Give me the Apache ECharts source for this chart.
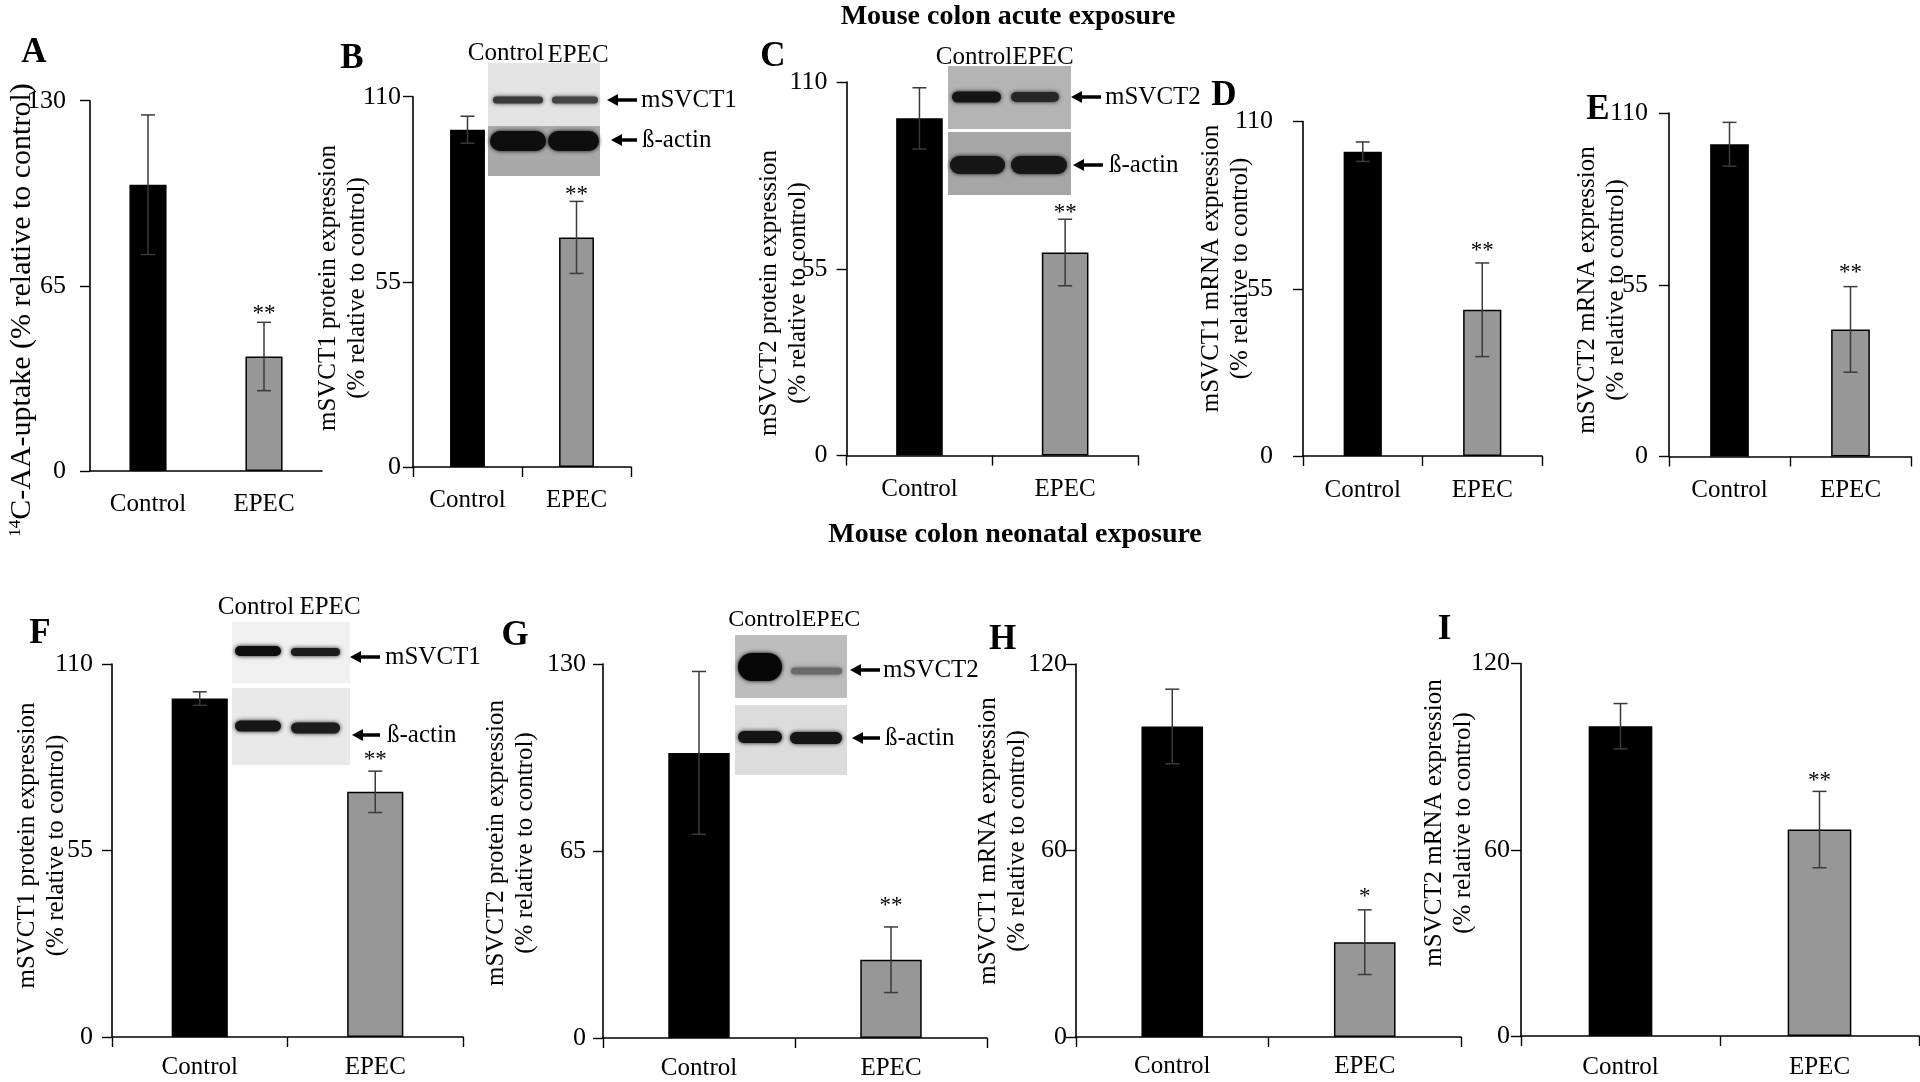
<!DOCTYPE html>
<html><head><meta charset="utf-8">
<script src="https://cdn.jsdelivr.net/npm/echarts@6/dist/echarts.min.js"></script>
<style>html,body{margin:0;padding:0;background:#fff}#c{width:1920px;height:1082px}</style>
</head><body><div id="c"></div>
<script>
// ---------------- DATA ----------------
const categories = ['Control', 'EPEC'];
const panelLetters = ['A','B','C','D','E','F','G','H','I'];

const meanA = [100.5, 40.2], errA = [24.5, 12.0], sigA = ['', '**'], sigPosA = [null, 56.9];
const meanB = [100.2, 68.2], errB = [4.0, 10.7],  sigB = ['', '**'], sigPosB = [null, 82.2];
const meanC = [99.3, 59.8],  errC = [9.0, 9.8],   sigC = ['', '**'], sigPosC = [null, 72.8];
const meanD = [100.1, 48.1], errD = [3.2, 15.4],  sigD = ['', '**'], sigPosD = [null, 69.0];
const meanE = [100.0, 40.7], errE = [7.0, 13.7],  sigE = ['', '**'], sigPosE = [null, 60.4];
const meanF = [99.8, 72.3],  errF = [2.0, 6.1],   sigF = ['', '**'], sigPosF = [null, 83.2];
const meanG = [99.1, 27.2],  errG = [28.3, 11.4], sigG = ['', '**'], sigPosG = [null, 47.6];
const meanH = [99.9, 30.5],  errH = [12.0, 10.4], sigH = ['', '*'],  sigPosH = [null, 46.8];
const meanI = [99.8, 66.5],  errI = [7.3, 12.3],  sigI = ['', '**'], sigPosI = [null, 83.8];

const ticksA = [0, 65, 130], ticksB = [0, 55, 110], ticksC = [0, 55, 110];
const ticksD = [0, 55, 110], ticksE = [0, 55, 110], ticksF = [0, 55, 110];
const ticksG = [0, 65, 130], ticksH = [0, 60, 120], ticksI = [0, 60, 120];

const titleA = ['{s|14}C-AA-uptake (% relative to control)'];
const titleB = ['mSVCT1 protein expression', '(% relative to control)'];
const titleC = ['mSVCT2 protein expression', '(% relative to control)'];
const titleD = ['mSVCT1 mRNA expression', '(% relative to control)'];
const titleE = ['mSVCT2 mRNA expression', '(% relative to control)'];
const titleF = ['mSVCT1 protein expression', '(% relative to control)'];
const titleG = ['mSVCT2 protein expression', '(% relative to control)'];
const titleH = ['mSVCT1 mRNA expression', '(% relative to control)'];
const titleI = ['mSVCT2 mRNA expression', '(% relative to control)'];

const headings = ['Mouse colon acute exposure', 'Mouse colon neonatal exposure'];

// ---------------- LAYOUT (positions / styles only) ----------------
const FONT = 'Liberation Serif';
const layout = {
  A: {x0: 90,   x1: 322,  y0: 100.7, y1: 471,  lm: 24, cm: 20.5, xt: false, title: [22, 310, 30],  letter: [34, 53]},
  B: {x0: 413,  x1: 631,  y0: 96.7,  y1: 467,  lm: 12, cm: 21,   xt: true, title: [342.5, 288, 25], letter: [352, 59]},
  C: {x0: 846.6,x1: 1138, y0: 82,    y1: 455.6,lm: 19, cm: 21.5, xt: true, title: [783.5, 293, 25], letter: [773, 57]},
  D: {x0: 1303, x1: 1542, y0: 121.6, y1: 456,  lm: 30, cm: 21.5, xt: true, title: [1225.7, 268.5, 25], letter: [1224, 96]},
  E: {x0: 1669, x1: 1911, y0: 113,   y1: 456.5,lm: 21, cm: 21.5, xt: true, title: [1602.4, 290, 25], letter: [1598, 110]},
  F: {x0: 112,  x1: 463,  y0: 664,   y1: 1037, lm: 19, cm: 17.5, xt: true, title: [42, 845.5, 25],  letter: [40, 634]},
  G: {x0: 603,  x1: 987,  y0: 664,   y1: 1038, lm: 17, cm: 17.5, xt: true, title: [511.3, 843, 25], letter: [515, 636]},
  H: {x0: 1076, x1: 1461, y0: 664,   y1: 1037, lm: 9,  cm: 16.5, xt: true, title: [1002.5, 841, 25], letter: [1002.5, 640]},
  I: {x0: 1521, x1: 1919, y0: 663.5, y1: 1036, lm: 11, cm: 18.5, xt: true, title: [1448.6, 823, 25], letter: [1444.5, 630]}
};

const panelData = {
  A: {mean: meanA, err: errA, sig: sigA, sigPos: sigPosA, ticks: ticksA, title: titleA},
  B: {mean: meanB, err: errB, sig: sigB, sigPos: sigPosB, ticks: ticksB, title: titleB},
  C: {mean: meanC, err: errC, sig: sigC, sigPos: sigPosC, ticks: ticksC, title: titleC},
  D: {mean: meanD, err: errD, sig: sigD, sigPos: sigPosD, ticks: ticksD, title: titleD},
  E: {mean: meanE, err: errE, sig: sigE, sigPos: sigPosE, ticks: ticksE, title: titleE},
  F: {mean: meanF, err: errF, sig: sigF, sigPos: sigPosF, ticks: ticksF, title: titleF},
  G: {mean: meanG, err: errG, sig: sigG, sigPos: sigPosG, ticks: ticksG, title: titleG},
  H: {mean: meanH, err: errH, sig: sigH, sigPos: sigPosH, ticks: ticksH, title: titleH},
  I: {mean: meanI, err: errI, sig: sigI, sigPos: sigPosI, ticks: ticksI, title: titleI}
};

const barColors = ['#000000', '#979797'];

// ---------------- BUILD OPTION ----------------
const grid = [], xAxis = [], yAxis = [], series = [], graphic = [];

panelLetters.forEach((id, k) => {
  const L = layout[id], D = panelData[id];
  grid.push({left: L.x0, top: L.y0, width: L.x1 - L.x0, height: L.y1 - L.y0, containLabel: false});
  xAxis.push({
    type: 'category', gridIndex: k, data: categories,
    axisLine: {lineStyle: {color: '#000', width: 1.6}},
    axisTick: {show: L.xt, length: 10, lineStyle: {color: '#000', width: 1.4}},
    axisLabel: {color: '#000', fontFamily: FONT, fontSize: 25, margin: L.cm}
  });
  yAxis.push({
    type: 'value', gridIndex: k, min: D.ticks[0], max: D.ticks[D.ticks.length - 1],
    interval: D.ticks[1] - D.ticks[0],
    axisLine: {show: true, lineStyle: {color: '#000', width: 1.6}},
    axisTick: {show: true, length: 10, lineStyle: {color: '#000', width: 1.4}},
    splitLine: {show: false},
    axisLabel: {color: '#000', fontFamily: FONT, fontSize: 26, margin: L.lm}
  });
  series.push({
    type: 'bar', xAxisIndex: k, yAxisIndex: k, barWidth: '32%', animation: false,
    data: D.mean.map((v, i) => ({
      value: v,
      itemStyle: {color: barColors[i], borderColor: '#000', borderWidth: i === 0 ? 0 : 1.5}
    }))
  });
  series.push({
    type: 'custom', xAxisIndex: k, yAxisIndex: k, animation: false, z: 5,
    data: D.mean.map((v, i) => [i, v, D.err[i]]),
    renderItem: (params, api) => {
      const i = api.value(0), v = api.value(1), e = api.value(2);
      const top = api.coord([i, v + e]), bot = api.coord([i, v - e]);
      const half = 7;
      const st = {stroke: '#3a3a3a', lineWidth: 1.5};
      return {type: 'group', children: [
        {type: 'line', shape: {x1: top[0], y1: top[1], x2: bot[0], y2: bot[1]}, style: st},
        {type: 'line', shape: {x1: top[0] - half, y1: top[1], x2: top[0] + half, y2: top[1]}, style: st},
        {type: 'line', shape: {x1: bot[0] - half, y1: bot[1], x2: bot[0] + half, y2: bot[1]}, style: st}
      ]};
    }
  });
  series.push({
    type: 'custom', xAxisIndex: k, yAxisIndex: k, animation: false, z: 6,
    data: D.sigPos.map((p, i) => [i, p == null ? NaN : p]),
    renderItem: (params, api) => {
      const txt = D.sig[params.dataIndex];
      if (!txt) return null;
      const pt = api.coord([api.value(0), api.value(1)]);
      return {type: 'text', x: pt[0], y: pt[1] + 5,
        style: {text: txt, fontFamily: FONT, fontSize: 23, fill: '#000', align: 'center', verticalAlign: 'middle'}};
    }
  });
  // panel letter
  graphic.push({type: 'text', x: L.letter[0], y: L.letter[1],
    style: {text: id, fontFamily: FONT, fontWeight: 'bold', fontSize: 35, fill: '#000', align: 'center', verticalAlign: 'middle'}});
  // y-axis title
  graphic.push({type: 'text', x: L.title[0], y: L.title[1], rotation: Math.PI / 2,
    style: {text: D.title.join('\n'), fontFamily: FONT, fontSize: L.title[2], lineHeight: 29, fill: '#000',
      align: 'center', verticalAlign: 'middle',
      rich: {s: {fontSize: 17, fontFamily: FONT, verticalAlign: 'top', lineHeight: 17, padding: [0, 0, 12, 0]}}}});
});

// headings
graphic.push({type: 'text', x: 1008, y: 17, style: {text: headings[0], fontFamily: FONT, fontWeight: 'bold', fontSize: 28, fill: '#000', align: 'center', verticalAlign: 'middle'}});
graphic.push({type: 'text', x: 1015, y: 535, style: {text: headings[1], fontFamily: FONT, fontWeight: 'bold', fontSize: 28, fill: '#000', align: 'center', verticalAlign: 'middle'}});

// ---------------- WESTERN BLOT INSETS (decorative) ----------------
const blots = [
  {labels: [[506, 53], [578, 55]], fs: 25,
   secs: [
    {x: 488, y: 63, w: 112, h: 63, bg: '#e3e3e3', bands: [[493, 50, 100, 7, '#3a3a3a'], [552, 46, 100, 7, '#444']]},
    {x: 488, y: 126, w: 112, h: 50, bg: '#a9a9a9', bands: [[490, 56, 141, 20, '#0e0e0e'], [548, 51, 141, 20, '#0e0e0e']]}],
   arrows: [[607, 637, 100, 'mSVCT1', 641], [611, 637, 140, 'ß-actin', 642]]},
  {labels: [[974, 57], [1043, 57]], fs: 25,
   secs: [
    {x: 948, y: 66, w: 123, h: 63, bg: '#b4b4b4', bands: [[952, 49, 97, 11, '#141414'], [1011, 48, 97, 10, '#262626']]},
    {x: 948, y: 132, w: 123, h: 63, bg: '#a6a6a6', bands: [[950, 55, 165, 18, '#161616'], [1011, 56, 165, 18, '#161616']]}],
   arrows: [[1071, 1101, 97, 'mSVCT2', 1105], [1073, 1103, 165, 'ß-actin', 1109]]},
  {labels: [[256, 607], [330, 607]], fs: 25,
   secs: [
    {x: 232, y: 622, w: 118, h: 61, bg: '#f0f0f0', bands: [[235, 46, 651, 10, '#0e0e0e'], [291, 49, 652, 8, '#1c1c1c']]},
    {x: 232, y: 688, w: 118, h: 77, bg: '#e8e8e8', bands: [[235, 46, 726, 11, '#161616'], [291, 49, 728, 11, '#1c1c1c']]}],
   arrows: [[350, 380, 657, 'mSVCT1', 385], [352, 380, 735, 'ß-actin', 387]]},
  {labels: [[765, 620], [831, 620]], fs: 24,
   secs: [
    {x: 735, y: 635, w: 112, h: 63, bg: '#bdbdbd', bands: [[738, 44, 667, 28, '#070707'], [791, 51, 671, 7, '#6a6a6a']]},
    {x: 735, y: 705, w: 112, h: 70, bg: '#dcdcdc', bands: [[738, 44, 737, 12, '#141414'], [790, 52, 738, 12, '#161616']]}],
   arrows: [[850, 880, 670, 'mSVCT2', 883], [852, 880, 738, 'ß-actin', 885]]}
];

blots.forEach(b => {
  b.secs.forEach(s => {
    graphic.push({type: 'rect', shape: {x: s.x, y: s.y, width: s.w, height: s.h}, style: {fill: s.bg}, z: 10});
    s.bands.forEach(([bx, bw, cy, bh, c]) => {
      graphic.push({type: 'rect', shape: {x: bx, y: cy - bh / 2, width: bw, height: bh, r: bh / 2},
        style: {fill: c, shadowBlur: 4, shadowColor: c}, z: 11});
    });
  });
  b.labels.forEach(([lx, ly], i) => {
    graphic.push({type: 'text', x: lx, y: ly, z: 12,
      style: {text: categories[i], fontFamily: FONT, fontSize: b.fs, fill: '#000', align: 'center', verticalAlign: 'middle'}});
  });
  b.arrows.forEach(([tip, end, ay, txt, tx]) => {
    graphic.push({type: 'line', shape: {x1: tip + 8, y1: ay, x2: end, y2: ay}, style: {stroke: '#000', lineWidth: 3.5}, z: 12});
    graphic.push({type: 'polygon', shape: {points: [[tip, ay], [tip + 11, ay - 6], [tip + 11, ay + 6]]}, style: {fill: '#000'}, z: 12});
    graphic.push({type: 'text', x: tx, y: ay, z: 12,
      style: {text: txt, fontFamily: FONT, fontSize: 25, fill: '#000', align: 'left', verticalAlign: 'middle'}});
  });
});

const chart = echarts.init(document.getElementById('c'), null, {renderer: 'canvas'});
chart.setOption({backgroundColor: '#fff', animation: false, grid, xAxis, yAxis, series, graphic});
</script>
</body></html>
